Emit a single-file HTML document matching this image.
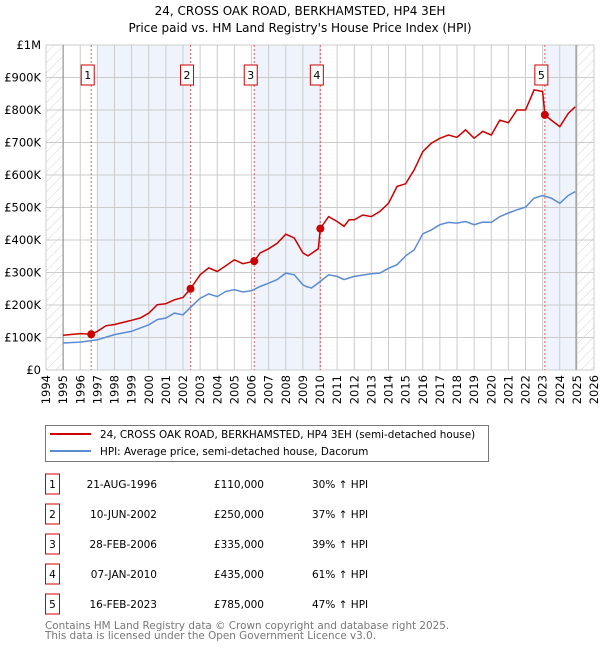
<!DOCTYPE html>
<html><head><meta charset="utf-8"><style>
body{margin:0;background:#fff;font-family:"DejaVu Sans","Liberation Sans",sans-serif;}
svg text{font-family:"DejaVu Sans","Liberation Sans",sans-serif;}
</style></head><body>
<svg id="chart" width="600" height="650" viewBox="0 0 600 650">
<defs><pattern id="hatch" width="7" height="7" patternUnits="userSpaceOnUse" patternTransform="rotate(45)"><line x1="0" y1="0" x2="0" y2="7" stroke="#d4d4d4" stroke-width="1"/></pattern></defs>
<text x="300" y="15" text-anchor="middle" font-size="12">24, CROSS OAK ROAD, BERKHAMSTED, HP4 3EH</text>
<text x="300" y="32" text-anchor="middle" font-size="12">Price paid vs. HM Land Registry's House Price Index (HPI)</text>
<g id="plot"></g>
<g id="legend">
<rect x="45.5" y="425.5" width="443" height="36" fill="#fff" stroke="#777"/>
<line x1="50" y1="434" x2="91" y2="434" stroke="#cc0000" stroke-width="2"/>
<text x="100" y="438" font-size="10.4">24, CROSS OAK ROAD, BERKHAMSTED, HP4 3EH (semi-detached house)</text>
<line x1="50" y1="451" x2="91" y2="451" stroke="#5b8bd0" stroke-width="2"/>
<text x="100" y="455" font-size="10.4">HPI: Average price, semi-detached house, Dacorum</text>
</g>
<g id="table"></g>
<text x="45" y="629" font-size="10.4" fill="#777">Contains HM Land Registry data © Crown copyright and database right 2025.</text>
<text x="45" y="639" font-size="10.4" fill="#777">This data is licensed under the Open Government Licence v3.0.</text>
</svg>
<script>
const hpiYears=[1995,1996,1997,1998,1999,2000,2000.5,2001,2001.5,2002,2002.5,2003,2003.5,2004,2004.5,2005,2005.5,2006,2006.5,2007,2007.5,2008,2008.5,2009,2009.2,2009.5,2010,2010.5,2011,2011.4,2012,2013,2013.5,2014,2014.5,2015,2015.5,2016,2016.5,2017,2017.5,2018,2018.5,2019,2019.5,2020,2020.5,2021,2021.5,2022,2022.5,2023,2023.5,2024,2024.5,2024.9];
const hpiValues=[83,86,93,109,119,139,155,160,175,170,196,221,234,226,242,247,240,244,257,267,278,298,293,262,257,252,272,293,288,278,288,296,298,313,324,351,370,419,431,447,454,452,457,447,455,454,472,483,493,501,529,537,529,513,537,549];
const priceYears=[1995,1996,1996.64,1997,1997.5,1998,1999,1999.5,2000,2000.5,2001,2001.5,2002,2002.44,2003,2003.5,2004,2004.5,2005,2005.5,2006.16,2006.5,2007,2007.5,2008,2008.5,2009,2009.3,2009.9,2010.02,2010.5,2011,2011.4,2011.7,2012,2012.5,2013,2013.5,2014,2014.5,2015,2015.5,2016,2016.5,2017,2017.5,2018,2018.5,2019,2019.5,2020,2020.5,2021,2021.5,2022,2022.5,2023,2023.13,2023.5,2024,2024.5,2024.9];
const priceValues=[107,112,110,119,136,140,153,160,175,201,204,216,223,250,293,314,303,321,339,327,335,360,373,390,418,406,360,351,373,435,472,457,442,462,462,477,472,488,513,565,573,616,672,698,713,723,716,739,713,734,723,769,761,800,800,862,857,785,769,749,790,810];
const saleYears=[1996.64,2002.44,2006.16,2010.02,2023.13];
const saleValues=[110,250,335,435,785];
const saleLabels=["1","2","3","4","5"];
const saleDates=["21-AUG-1996","10-JUN-2002","28-FEB-2006","07-JAN-2010","16-FEB-2023"];
const salePrices=["£110,000","£250,000","£335,000","£435,000","£785,000"];
const saleHpi=["30% ↑ HPI","37% ↑ HPI","39% ↑ HPI","61% ↑ HPI","47% ↑ HPI"];
const yTicks=[0,100,200,300,400,500,600,700,800,900,1000];
const yTickLabels=["£0","£100K","£200K","£300K","£400K","£500K","£600K","£700K","£800K","£900K","£1M"];
const xTicks=[1994,1995,1996,1997,1998,1999,2000,2001,2002,2003,2004,2005,2006,2007,2008,2009,2010,2011,2012,2013,2014,2015,2016,2017,2018,2019,2020,2021,2022,2023,2024,2025,2026];

const X0=46,X1=594,Y0=370,Y1=45;
const xs=y=>X0+(y-1994)*(X1-X0)/32;
const ys=v=>Y0-v*(Y0-Y1)/1000;
const NS="http://www.w3.org/2000/svg";
const plot=document.getElementById('plot');
function mk(tag,attrs,parent){const e=document.createElementNS(NS,tag);for(const k in attrs)e.setAttribute(k,attrs[k]);(parent||plot).appendChild(e);return e;}

const bands=[[1997,saleYears[1]],[saleYears[2],saleYears[3]],[saleYears[4],2024.95]];
bands.forEach(b=>{const r=mk('rect',{x:xs(b[0]),y:Y1,width:xs(b[1])-xs(b[0]),height:Y0-Y1,fill:'#eef3fc'});

});
[[1994,1995],[2024.95,2026]].forEach(b=>{const r=mk('rect',{x:xs(b[0]),y:Y1,width:xs(b[1])-xs(b[0]),height:Y0-Y1,fill:'url(#hatch)'});

});
xTicks.forEach((t,i)=>{const l=mk('line',{x1:xs(t),x2:xs(t),y1:Y1,y2:Y0,stroke:'#ccc','stroke-width':1});


const tx=mk('text',{x:0,y:0,'font-size':11.5,'text-anchor':'end',transform:`translate(${xs(t)+4},${Y0+5}) rotate(-90)`});tx.textContent=t;

});
yTicks.forEach((t,i)=>{const l=mk('line',{x1:X0,x2:X1,y1:ys(t),y2:ys(t),stroke:'#ccc','stroke-width':1});


const tx=mk('text',{x:X0-5,y:ys(t)+4,'font-size':11.5,'text-anchor':'end'});tx.textContent=yTickLabels[i];

});
[1995,2024.95].forEach(t=>{const l=mk('line',{x1:xs(t),x2:xs(t),y1:Y1,y2:Y0,stroke:'#888','stroke-width':1});

});
saleYears.forEach((s,i)=>{const l=mk('line',{x1:xs(s),x2:xs(s),y1:Y1,y2:Y0,stroke:'#e06060','stroke-width':1,'stroke-dasharray':'2,2'});

});
const pts=(a,b)=>a.map((y,i)=>xs(y).toFixed(1)+','+ys(b[i]).toFixed(1)).join(' ');
const hl=mk('polyline',{points:pts(hpiYears,hpiValues),fill:'none',stroke:'#5b8bd0','stroke-width':1.5});


const pl=mk('polyline',{points:pts(priceYears,priceValues),fill:'none',stroke:'#cc0000','stroke-width':1.5});


saleYears.forEach((s,i)=>{const c=mk('circle',{cx:xs(s),cy:ys(saleValues[i]),r:4,fill:'#cc0000'});


const g=mk('g',{});


mk('rect',{x:xs(s)-10,y:65,width:13,height:20,fill:'#fff',stroke:'#cc0000'},g);
const t=mk('text',{x:xs(s)-3.5,y:79,'font-size':11,'text-anchor':'middle'},g);t.textContent=saleLabels[i];});
const tb=document.getElementById('table');
saleLabels.forEach((lab,i)=>{const cy=484+i*30;
const g=mk('g',{},tb);


mk('rect',{x:45.5,y:cy-10,width:14,height:20,fill:'#fff',stroke:'#cc0000'},g);
const a=mk('text',{x:52.5,y:cy+4,'font-size':10.5,'text-anchor':'middle'},g);a.textContent=lab;
const d=mk('text',{x:157,y:cy+4,'font-size':10.5,'text-anchor':'end'},g);d.textContent=saleDates[i];
const p=mk('text',{x:264,y:cy+4,'font-size':10.5,'text-anchor':'end'},g);p.textContent=salePrices[i];
const h=mk('text',{x:312,y:cy+4,'font-size':10.5},g);h.textContent=saleHpi[i];});
</script>
</body></html>
